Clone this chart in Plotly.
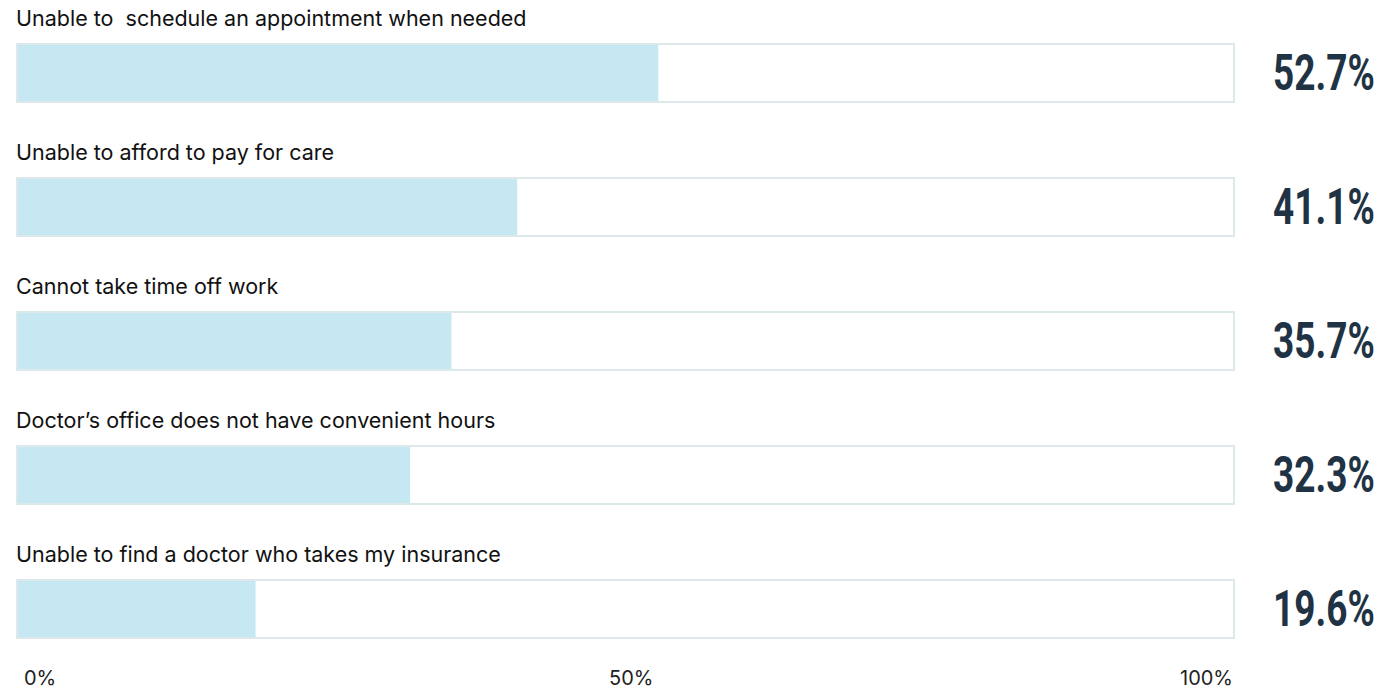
import json
import plotly.graph_objects as go

categories = [
    "Unable to  schedule an appointment when needed",
    "Unable to afford to pay for care",
    "Cannot take time off work",
    "Doctor’s office does not have convenient hours",
    "Unable to find a doctor who takes my insurance",
]
values = [52.7, 41.1, 35.7, 32.3, 19.6]
value_labels = ["52.7%", "41.1%", "35.7%", "32.3%", "19.6%"]
tick_vals = [0, 50, 100]
tick_labels = ["0%", "50%", "100%"]

W, H = 1382, 691
px_per_unit = 12.17
x0_px = 17
row_px = 134
first_center_px = 73

ypos = list(range(len(categories)))
bar_w = 58 / row_px

fig = go.Figure()
fig.add_trace(go.Bar(x=[100] * len(categories), y=ypos, orientation="h", width=bar_w,
                     marker=dict(color="white", line=dict(width=0)), hoverinfo="skip"))
fig.add_trace(go.Bar(x=values, y=ypos, orientation="h", width=bar_w,
                     marker=dict(color="#c5e8f3", line=dict(width=0))))
fig.add_trace(go.Bar(x=[100] * len(categories), y=ypos, orientation="h", width=bar_w,
                     marker=dict(color="rgba(0,0,0,0)", line=dict(color="#dde8ea", width=2)),
                     hoverinfo="skip"))

ann = []
for i, c in enumerate(categories):
    ann.append(dict(x=0, y=i - 55 / row_px, xref="x", yref="y", text=c, showarrow=False,
                    xanchor="left", yanchor="middle", xshift=-3,
                    font=dict(family="Inter", size=21.5, color="#111111")))
    ann.append(dict(x=(1271 - x0_px) / px_per_unit, y=i, xref="x", yref="y",
                    text=value_labels[i], showarrow=False, xanchor="left", yanchor="middle",
                    font=dict(family="Roboto", size=50, color="#1f3345", weight="bold")))

tick_anchor = ["left", "center", "right"]
tick_shift = [5, 5, 1]
for tv, tl, a, s in zip(tick_vals, tick_labels, tick_anchor, tick_shift):
    ann.append(dict(x=tv, y=len(categories) - 1 + (677 - 608) / row_px, xref="x", yref="y",
                    text=tl, showarrow=False, xanchor=a, yanchor="middle", xshift=s,
                    font=dict(family="Inter", size=20, color="#222222")))

fig.update_layout(
    width=W, height=H, margin=dict(l=0, r=0, t=0, b=0),
    paper_bgcolor="white", plot_bgcolor="white",
    barmode="overlay", showlegend=False, annotations=ann,
    xaxis=dict(range=[-x0_px / px_per_unit, (W - x0_px) / px_per_unit], visible=False, fixedrange=True),
    yaxis=dict(range=[(H - first_center_px) / row_px, -first_center_px / row_px], visible=False, fixedrange=True),
)

# condense the big value labels horizontally (the reference uses a condensed face),
# scaling each about its left edge and shrinking its background box to match
post = """
var gd = document.getElementById('{plot_id}');
var labels = %s;
var k = 0.74;
function squeeze(){
  gd.querySelectorAll('text.annotation-text').forEach(function(t){
    if (labels.indexOf(t.textContent) >= 0 && !t.getAttribute('data-sq')) {
      var bb = t.getBBox();
      var left = bb.x;
      t.setAttribute('transform', 'matrix(' + k + ',0,0,1,' + ((1 - k) * left).toFixed(2) + ',0)');
      t.setAttribute('data-sq', '1');
      var g = t.parentNode;
      var r = g ? g.querySelector('rect.bg') : null;
      if (r) {
        var rw = parseFloat(r.getAttribute('width') || '0');
        r.setAttribute('width', Math.max(0, rw - (1 - k) * bb.width).toFixed(1));
      }
    }
  });
}
squeeze();
gd.on('plotly_afterplot', squeeze);
""" % json.dumps(value_labels)

fig.write_html("out.html", post_script=post)
